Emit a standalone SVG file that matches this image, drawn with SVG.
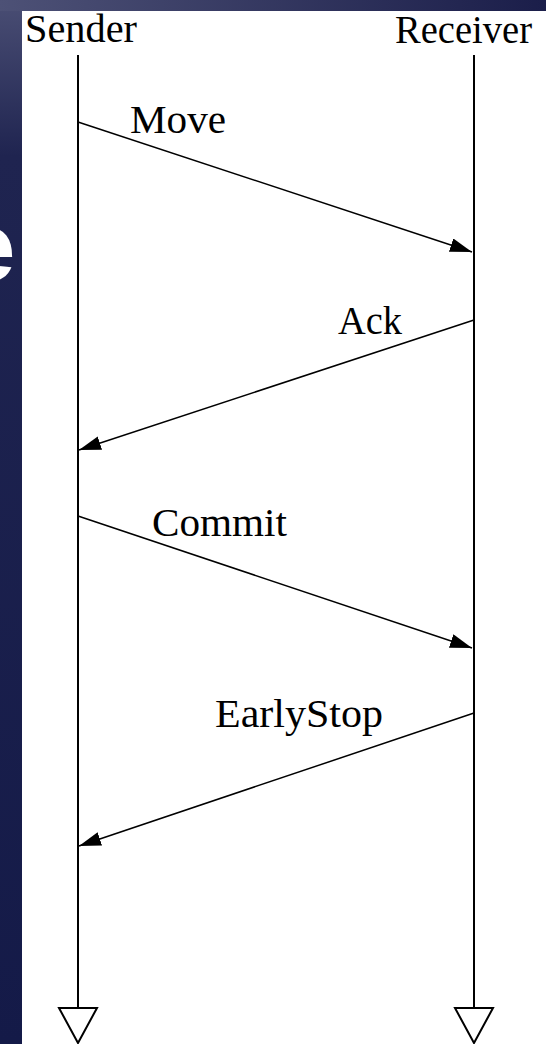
<svg xmlns="http://www.w3.org/2000/svg" width="546" height="1044" viewBox="0 0 546 1044">
  <defs>
    <linearGradient id="topband" x1="0" y1="0" x2="1" y2="0">
      <stop offset="0" stop-color="#4d5176"/>
      <stop offset="1" stop-color="#1b1e4a"/>
    </linearGradient>
    <linearGradient id="leftband" x1="0" y1="0" x2="0" y2="1">
      <stop offset="0" stop-color="#4a4e74"/>
      <stop offset="0.15" stop-color="#1f2450"/>
      <stop offset="1" stop-color="#141a48"/>
    </linearGradient>
    <marker id="arrow" markerUnits="userSpaceOnUse" markerWidth="24" markerHeight="16" refX="22" refY="7" orient="auto">
      <path d="M0,0 L22,7 L0,14 Z" fill="#000"/>
    </marker>
    <style>
      .lbl { font-family: "Liberation Serif", "Times New Roman", serif; font-size: 39px; fill: #000; }
      .life { stroke: #000; stroke-width: 2; fill: none; }
      .msg { stroke: #000; stroke-width: 1.5; fill: none; marker-end: url(#arrow); }
      .end { stroke: #000; stroke-width: 2; fill: #fff; }
    </style>
  </defs>
  <rect x="0" y="0" width="546" height="1044" fill="url(#leftband)"/>
  <rect x="0" y="0" width="546" height="11" fill="url(#topband)"/>
  <text x="-38" y="280" font-family="Liberation Sans, Arial, sans-serif" font-weight="bold" font-size="96" fill="#fff">e</text>
  <rect x="22" y="11" width="524" height="1033" fill="#fff"/>

  <g id="sender">
    <text class="lbl" x="25" y="42" textLength="112" lengthAdjust="spacingAndGlyphs">Sender</text>
    <line class="life" x1="78" y1="55" x2="78" y2="1008"/>
    <polygon class="end" points="59,1008 97,1008 78,1043"/>
  </g>
  <g id="receiver">
    <text class="lbl" x="395" y="43" textLength="137" lengthAdjust="spacingAndGlyphs">Receiver</text>
    <line class="life" x1="474" y1="55" x2="474" y2="1008"/>
    <polygon class="end" points="455,1008 493,1008 474,1043"/>
  </g>

  <g id="connectors">
    <line class="msg" x1="78" y1="122" x2="472" y2="252"/>
    <line class="msg" x1="474" y1="320" x2="79" y2="450"/>
    <line class="msg" x1="78" y1="516" x2="472" y2="648"/>
    <line class="msg" x1="474" y1="713" x2="79" y2="846"/>
  </g>

  <g id="labels">
    <text class="lbl" x="130" y="133" textLength="96" lengthAdjust="spacingAndGlyphs">Move</text>
    <text class="lbl" x="338" y="334" textLength="64" lengthAdjust="spacingAndGlyphs">Ack</text>
    <text class="lbl" x="152" y="536" textLength="135" lengthAdjust="spacingAndGlyphs">Commit</text>
    <text class="lbl" x="215" y="727" textLength="168" lengthAdjust="spacingAndGlyphs">EarlyStop</text>
  </g>
</svg>
